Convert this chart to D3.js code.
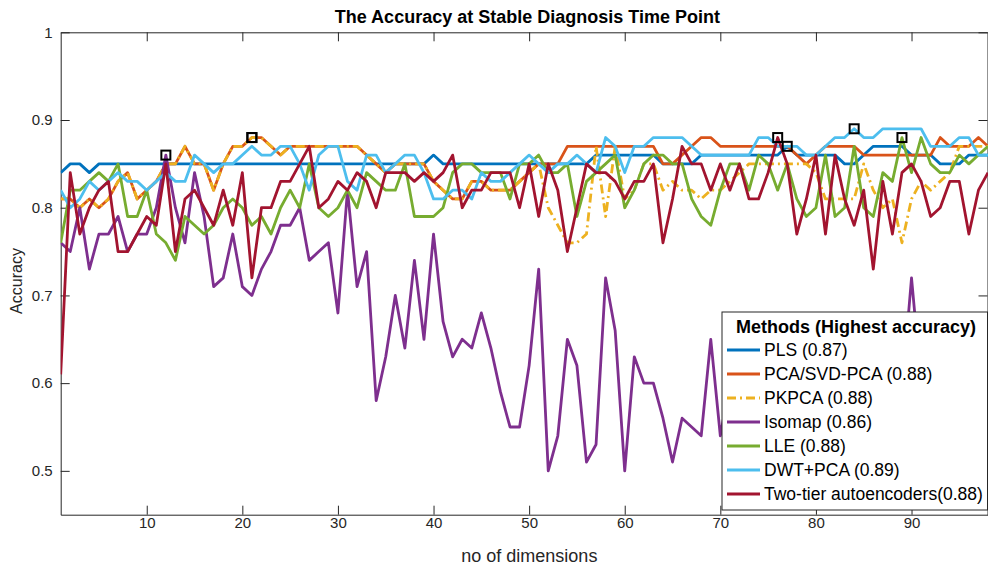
<!DOCTYPE html>
<html lang="en">
<head>
<meta charset="utf-8" />
<title>The Accuracy at Stable Diagnosis Time Point</title>
<script src="https://cdnjs.cloudflare.com/ajax/libs/d3/7.8.5/d3.min.js"></script>
<style>
  body { margin: 0; background: #fff; }
  svg { display: block; font-family: 'Liberation Sans', Arial, sans-serif; }
</style>
</head>
<body>
<svg id="chart" width="988" height="568"></svg>
<script>
// ---- data: accuracy per number of dimensions (1..98) ----
const xTicks = [10, 20, 30, 40, 50, 60, 70, 80, 90];
const yTicks = [0.5, 0.6, 0.7, 0.8, 0.9, 1];

const pls = [
  .84,.85,.85,.84,.85,.85,.85,.85,.85,.85,
  .85,.85,.85,.85,.85,.85,.85,.85,.85,.85,
  .85,.85,.85,.85,.85,.85,.85,.85,.85,.85,
  .85,.85,.85,.85,.85,.85,.85,.85,.85,.86,
  .85,.85,.85,.85,.85,.85,.85,.85,.85,.85,
  .85,.85,.85,.85,.85,.85,.86,.86,.86,.86,
  .86,.86,.86,.85,.85,.85,.85,.86,.86,.86,
  .86,.86,.86,.86,.86,.86,.87,.86,.86,.86,
  .86,.86,.85,.85,.86,.87,.87,.87,.87,.86,
  .86,.86,.85,.85,.85,.86,.86,.86];

const pcaSvd = [
  .81,.81,.80,.81,.80,.81,.83,.84,.81,.82,
  .83,.85,.85,.87,.85,.85,.82,.85,.87,.87,
  .88,.88,.87,.86,.87,.87,.87,.87,.87,.87,
  .87,.87,.86,.85,.84,.85,.85,.85,.85,.83,
  .82,.81,.81,.83,.83,.82,.82,.82,.83,.84,
  .85,.85,.85,.87,.87,.87,.87,.87,.87,.87,
  .87,.87,.87,.85,.85,.86,.87,.88,.88,.87,
  .87,.87,.87,.87,.87,.87,.87,.86,.85,.86,
  .87,.87,.87,.87,.86,.86,.86,.86,.86,.86,
  .86,.86,.88,.87,.87,.87,.88,.87];

const pkpca = [
  .81,.81,.80,.81,.80,.81,.83,.84,.81,.82,
  .83,.85,.85,.87,.85,.85,.82,.85,.87,.87,
  .88,.88,.87,.86,.87,.87,.87,.87,.87,.87,
  .87,.87,.86,.85,.84,.85,.85,.85,.85,.83,
  .82,.81,.81,.83,.83,.82,.82,.82,.83,.84,
  .85,.80,.78,.76,.76,.77,.87,.79,.87,.81,
  .82,.85,.85,.82,.83,.82,.82,.81,.82,.82,
  .83,.84,.85,.85,.85,.85,.85,.85,.85,.84,
  .81,.81,.81,.81,.85,.82,.80,.81,.76,.81,
  .83,.82,.83,.84,.87,.87,.87,.87];

const isomap = [
  .76,.75,.80,.73,.77,.77,.79,.75,.77,.77,
  .80,.86,.80,.76,.84,.79,.71,.72,.77,.71,
  .70,.73,.75,.78,.78,.80,.74,.75,.76,.68,
  .82,.71,.75,.58,.63,.70,.64,.74,.65,.77,
  .67,.63,.65,.64,.68,.64,.59,.55,.55,.62,
  .73,.50,.54,.65,.62,.51,.53,.72,.66,.50,
  .63,.60,.60,.56,.51,.56,.55,.54,.65,.54,
  .60,.58,.62,.55,.57,.60,.63,.58,.56,.61,
  .59,.57,.62,.60,.55,.58,.61,.57,.59,.72,
  .60,.58,.62,.59,.57,.61,.60,.62];

const lle = [
  .76,.82,.82,.83,.84,.83,.85,.79,.79,.82,
  .77,.76,.74,.79,.78,.77,.78,.80,.81,.80,
  .78,.79,.77,.80,.82,.80,.85,.80,.79,.80,
  .82,.80,.84,.83,.82,.82,.85,.79,.79,.79,
  .80,.84,.85,.85,.84,.84,.84,.81,.85,.85,
  .86,.84,.84,.85,.79,.83,.84,.85,.86,.80,
  .82,.85,.86,.86,.85,.85,.81,.79,.78,.82,
  .85,.85,.82,.86,.85,.82,.85,.81,.79,.80,
  .86,.79,.80,.87,.80,.79,.84,.83,.88,.84,
  .88,.85,.84,.84,.86,.85,.86,.87];

const dwtPca = [
  .82,.80,.81,.83,.82,.83,.84,.83,.83,.82,
  .83,.84,.83,.83,.86,.85,.84,.85,.85,.86,
  .87,.86,.86,.87,.87,.85,.82,.86,.87,.87,
  .83,.82,.86,.86,.84,.85,.86,.86,.84,.81,
  .81,.82,.82,.81,.84,.83,.83,.84,.85,.86,
  .85,.84,.85,.85,.86,.85,.84,.88,.87,.84,
  .87,.87,.88,.88,.88,.88,.87,.86,.86,.86,
  .86,.86,.86,.88,.88,.87,.87,.87,.86,.86,
  .87,.88,.88,.89,.88,.88,.89,.89,.89,.89,
  .89,.87,.87,.87,.88,.88,.86,.86];

const twoTier = [
  .61,.84,.77,.80,.82,.83,.75,.75,.77,.79,
  .78,.85,.75,.81,.82,.80,.78,.82,.78,.84,
  .72,.80,.80,.83,.83,.85,.87,.80,.81,.83,
  .82,.84,.83,.80,.84,.84,.84,.83,.84,.83,
  .84,.86,.80,.82,.82,.84,.84,.84,.80,.85,
  .79,.85,.82,.75,.80,.85,.84,.84,.83,.81,
  .83,.83,.85,.76,.81,.87,.85,.85,.82,.85,
  .82,.85,.81,.81,.84,.88,.85,.77,.81,.86,
  .77,.86,.81,.78,.82,.73,.83,.77,.84,.85,
  .83,.79,.80,.83,.83,.77,.82,.84];

const methods = ["PLS (0.87)", "PCA/SVD-PCA (0.88)", "PKPCA (0.88)", "Isomap (0.86)",
                 "LLE (0.88)", "DWT+PCA (0.89)", "Two-tier autoencoders(0.88)"];
const colors = ["#0072BD", "#D95319", "#EDB120", "#7E2F8E", "#77AC30", "#4DBEEE", "#A2142F"];
const series = [pls, pcaSvd, pkpca, isomap, lle, dwtPca, twoTier];

// ---- layout ----
const svg = d3.select("#chart");
const m = {left: 60.7, right: 988, top: 32.3, bottom: 514.7};
const axisColor = "#262626";

const x = d3.scaleLinear().domain([1, 98]).range([m.left, m.right]);
const y = d3.scaleLinear().domain([0.45, 1]).range([m.bottom, m.top]);

svg.append("defs").append("clipPath").attr("id", "plotClip")
  .append("rect").attr("x", m.left).attr("y", m.top)
  .attr("width", m.right - m.left).attr("height", m.bottom - m.top);

// axes (MATLAB style: ticks inward, box on)
const gx = svg.append("g").attr("transform", `translate(0,${m.bottom})`)
  .call(d3.axisBottom(x).tickValues(xTicks).tickSizeInner(-9).tickSizeOuter(0).tickPadding(3));
const gxTop = svg.append("g").attr("transform", `translate(0,${m.top})`)
  .call(d3.axisTop(x).tickValues(xTicks).tickSizeInner(-9).tickSizeOuter(0).tickFormat(""));
const gy = svg.append("g").attr("transform", `translate(${m.left},0)`)
  .call(d3.axisLeft(y).tickValues(yTicks).tickSizeInner(-9).tickSizeOuter(0).tickPadding(8)
    .tickFormat(d => String(+d.toFixed(1))));
const gyRight = svg.append("g").attr("transform", `translate(${m.right - 0.5},0)`)
  .call(d3.axisRight(y).tickValues(yTicks).tickSizeInner(-9).tickSizeOuter(0).tickFormat(""));

[gx, gxTop, gy, gyRight].forEach(g => {
  g.select(".domain").attr("stroke", axisColor);
  g.selectAll(".tick line").attr("stroke", axisColor);
  g.selectAll("text").attr("fill", axisColor).style("font-size", "15px")
    .style("font-family", "'Liberation Sans', Arial, sans-serif");
});

// lines
const line = d3.line().x((d, i) => x(i + 1)).y(d => y(d));
const plot = svg.append("g").attr("clip-path", "url(#plotClip)");
series.forEach((s, k) => {
  plot.append("path")
    .datum(s)
    .attr("fill", "none")
    .attr("stroke", colors[k])
    .attr("stroke-width", 2.8)
    .attr("stroke-linejoin", "round")
    .attr("stroke-dasharray", k === 2 ? "9,4,2,4" : null)
    .attr("d", line);
});

// highest accuracy markers
series.forEach(s => {
  const i = d3.maxIndex(s);
  svg.append("rect")
    .attr("x", x(i + 1) - 4.5).attr("y", y(s[i]) - 4.5)
    .attr("width", 9).attr("height", 9)
    .attr("fill", "none").attr("stroke", "#000").attr("stroke-width", 2);
});

// labels
svg.append("text").attr("x", (m.left + m.right) / 2 + 3).attr("y", 23)
  .attr("text-anchor", "middle").style("font-size", "18px").style("font-weight", "bold")
  .text("The Accuracy at Stable Diagnosis Time Point");
svg.append("text").attr("x", (m.left + m.right) / 2 + 5).attr("y", 562)
  .attr("text-anchor", "middle").style("font-size", "18px").attr("fill", axisColor)
  .text("no of dimensions");
svg.append("text").attr("transform", "translate(22,281) rotate(-90)")
  .attr("text-anchor", "middle").style("font-size", "16px").attr("fill", axisColor)
  .text("Accuracy");

// legend
const legend = svg.append("g").attr("transform", "translate(722,312)");
legend.append("rect").attr("width", 265.5).attr("height", 198)
  .attr("fill", "#fff").attr("stroke", axisColor).attr("stroke-width", 1);
legend.append("text").attr("x", 134).attr("y", 21)
  .attr("text-anchor", "middle").style("font-size", "18px").style("font-weight", "bold")
  .text("Methods (Highest accuracy)");
methods.forEach((name, k) => {
  const row = legend.append("g").attr("transform", `translate(0,${38 + k * 24})`);
  row.append("line").attr("x1", 5).attr("x2", 38).attr("y1", 0).attr("y2", 0)
    .attr("stroke", colors[k]).attr("stroke-width", 2.8)
    .attr("stroke-dasharray", k === 2 ? "9,4,2,4" : null);
  row.append("text").attr("x", 42).attr("y", 0).attr("dy", "0.35em")
    .style("font-size", "17.5px").attr("fill", "#000").text(name);
});
</script>
</body>
</html>
